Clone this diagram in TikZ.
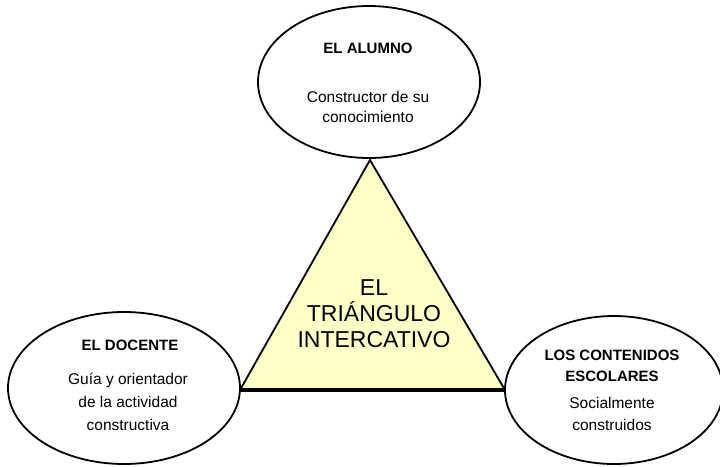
\documentclass[tikz,border=0pt]{standalone}
\usepackage{fontspec}
\setmainfont{Liberation Sans}
\usetikzlibrary{shapes.geometric}
\definecolor{triyellow}{HTML}{FFFFC8}
\tikzset{
  bubble/.style={ellipse, draw=black, line width=1.8pt, fill=white, inner sep=0pt},
  ttl/.style={font=\fontsize{15}{17}\selectfont\bfseries, inner sep=0pt, align=center},
  body/.style={font=\fontsize{15.5}{17}\selectfont, inner sep=0pt, align=center},
  tritxt/.style={font=\fontsize{23}{26}\selectfont, inner sep=0pt, align=center},
}
\begin{document}
\begin{tikzpicture}[x=1pt,y=-1pt]
\useasboundingbox (0,0) rectangle (720,466);
% triangle
\coordinate (apex) at (370,160);
\coordinate (bl) at (240,390);
\coordinate (br) at (505,390);
\fill[triyellow] (apex) -- (bl) -- (br) -- cycle;
\draw[line width=1.8pt] (bl) -- (apex) -- (br);
\draw[line width=4pt] (bl) -- (br);
% ellipses
\node[bubble, minimum width=222pt, minimum height=152pt] (alumno) at (369,82) {};
\node[bubble, minimum width=232pt, minimum height=152pt] (docente) at (124,388) {};
\node[bubble, minimum width=218pt, minimum height=148pt] (contenidos) at (614,390) {};
% texts
\node[ttl] (t1) at (368,48) {EL ALUMNO};
\node[body] (b1) at (368,107) {Constructor de su\\[3pt]conocimiento};
\node[ttl] (t2) at (130,345) {EL DOCENTE};
\node[body] (b2) at (128,402) {Guía y orientador\\[6pt]de la actividad\\[6pt]constructiva};
\node[ttl] (t3) at (612,366) {LOS CONTENIDOS\\[4pt]ESCOLARES};
\node[body] (b3) at (612,414) {Socialmente\\[5pt]construidos};
\node[tritxt] (tt) at (374,314) {EL\\TRIÁNGULO\\INTERCATIVO};
\end{tikzpicture}
\end{document}
